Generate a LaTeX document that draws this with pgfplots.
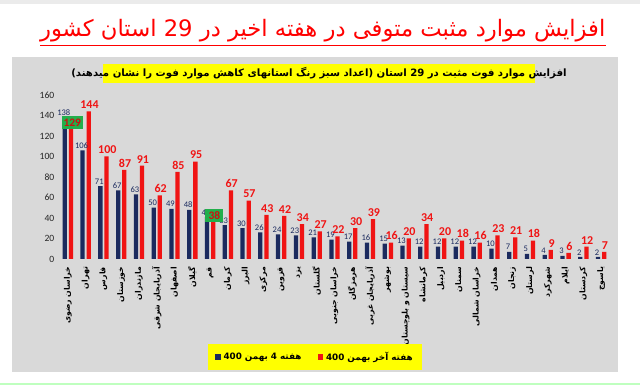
\documentclass[border=0pt]{standalone}
\usepackage{pgfplots}
\pgfplotsset{compat=1.18}
\usepackage{pgfplotstable}
\usepackage{fontspec}
\setmainfont{Carlito}
\newfontfamily\fa[Script=Arabic]{DejaVu Sans}
\TeXXeTstate=1
\definecolor{navy}{HTML}{1B2A5E}
\definecolor{bred}{HTML}{F01414}
\definecolor{panel}{HTML}{D9D9D9}
\definecolor{boxgreen}{HTML}{22AF4B}
\definecolor{ylw}{HTML}{FFFF00}
\newcommand\p[1]{\beginR #1\endR}
\pgfplotstableread{
i navy red lab
0 138 129 {}
1 106 144 144
2 71 100 100
3 67 87 87
4 63 91 91
5 50 62 62
6 49 85 85
7 48 95 95
8 41 38 {}
9 33 67 67
10 30 57 57
11 26 43 43
12 24 42 42
13 23 34 34
14 21 27 27
15 19 22 22
16 17 30 30
17 16 39 39
18 15 16 16
19 13 20 20
20 12 34 34
21 12 20 20
22 12 18 18
23 12 16 16
24 10 23 23
25 7 21 21
26 5 18 18
27 4 9 9
28 3 6 6
29 2 12 12
30 2 7 7
}\data
\pgfplotstableread{
i red
0 129
8 38
}\decr
\begin{document}
\begin{tikzpicture}
\useasboundingbox (0,0) rectangle (480pt,288.75pt);
\fill[white] (0,0) rectangle (480pt,288.75pt);
\fill[black!8] (0,286pt) rectangle (480pt,288.75pt);
\fill[panel] (9pt,9.75pt) rectangle (463.5pt,246pt);
\fill[green!25] (0,0) rectangle (480pt,1.8pt);
\node[text=red, font=\fa\fontsize{17}{20}\selectfont, inner sep=0pt] (T) at (242pt,266pt)
  {\beginR افزایش موارد مثبت متوفی در هفته اخیر در \beginL29\endL{} استان کشور\endR};
\fill[red] ([yshift=-2.2pt]T.south west) rectangle ([yshift=-3.3pt]T.south east);
\fill[ylw] (77.25pt,226.5pt) rectangle (401.25pt,240.75pt);
\node[font=\fa\bfseries\fontsize{7.6}{9}\selectfont, inner sep=0pt] at (239.25pt,233.6pt)
  {\beginR افزایش موارد فوت مثبت در \beginL29\endL{} استان (اعداد سبز رنگ استانهای کاهش موارد فوت را نشان میدهند)\endR};
\begin{axis}[
  at={(44.25pt,94.5pt)}, anchor=south west,
  scale only axis, width=413.25pt, height=123pt,
  ybar, bar width=3.2pt,
  xmin=-0.5, xmax=30.5, ymin=0, ymax=160,
  enlarge x limits=false,
  ytick={0,20,...,160},
  xtick={0,...,30},
  xticklabels={\p{خراسان رضوی},\p{تهران},\p{فارس},\p{خوزستان},\p{مازندران},\p{آذربایجان شرقی},\p{اصفهان},\p{گیلان},\p{قم},\p{کرمان},\p{البرز},\p{مرکزی},\p{قزوین},\p{یزد},\p{گلستان},\p{خراسان جنوبی},\p{هرمزگان},\p{آذربایجان غربی},\p{بوشهر},\p{سیستان و بلوچستان},\p{کرمانشاه},\p{اردبیل},\p{سمنان},\p{خراسان شمالی},\p{همدان},\p{زنجان},\p{لرستان},\p{شهرکرد},\p{ایلام},\p{کردستان},\p{یاسوج}},
  xticklabel style={font=\fa\bfseries\fontsize{5.8}{6}\selectfont, rotate=90, anchor=east, inner sep=1.5pt},
  yticklabel style={font=\fontsize{7.2}{8}\selectfont, text=black!85},
  /pgf/number format/assume math mode=true,
  axis line style={draw=none},
  tick style={draw=none},
  clip=false,
  legend style={at={(0.465,-0.598)}, anchor=center, fill=ylw, draw=none,
    font=\fa\bfseries\fontsize{6.6}{8}\selectfont, legend columns=2,
    inner xsep=5pt, inner ysep=4pt,
    /tikz/column 2/.style={column sep=10pt}},
  legend image code/.code={\fill[#1,draw=none] (0pt,-2.2pt) rectangle (4.4pt,2.2pt);},
]
\addplot[fill=navy, draw=none, bar shift=-2.3pt,
  nodes near coords,
  every node near coord/.append style={font=\fontsize{6.4}{8}\selectfont, text=navy, inner sep=1.2pt, xshift=-0.8pt}]
  table[x=i, y=navy] {\data};
\addplot[fill=bred, draw=none, bar shift=2.3pt,
  point meta=explicit symbolic,
  nodes near coords,
  every node near coord/.append style={font=\bfseries\fontsize{9}{10}\selectfont, text=bred, inner sep=1.8pt, xshift=0.6pt}]
  table[x=i, y=red, meta=lab] {\data};
\addplot[fill=none, draw=none, bar shift=2.3pt, forget plot,
  nodes near coords,
  every node near coord/.append style={font=\bfseries\fontsize{8.6}{10}\selectfont, text=bred!85!black, fill=boxgreen, inner xsep=1.2pt, inner ysep=2.2pt, minimum width=13.5pt, xshift=1pt, yshift=-2pt}]
  table[x=i, y=red] {\decr};
\legend{\p{هفته \beginL4\endL{} بهمن \beginL400\endL},\p{هفته آخر بهمن \beginL400\endL}}
\end{axis}
\end{tikzpicture}
\end{document}
